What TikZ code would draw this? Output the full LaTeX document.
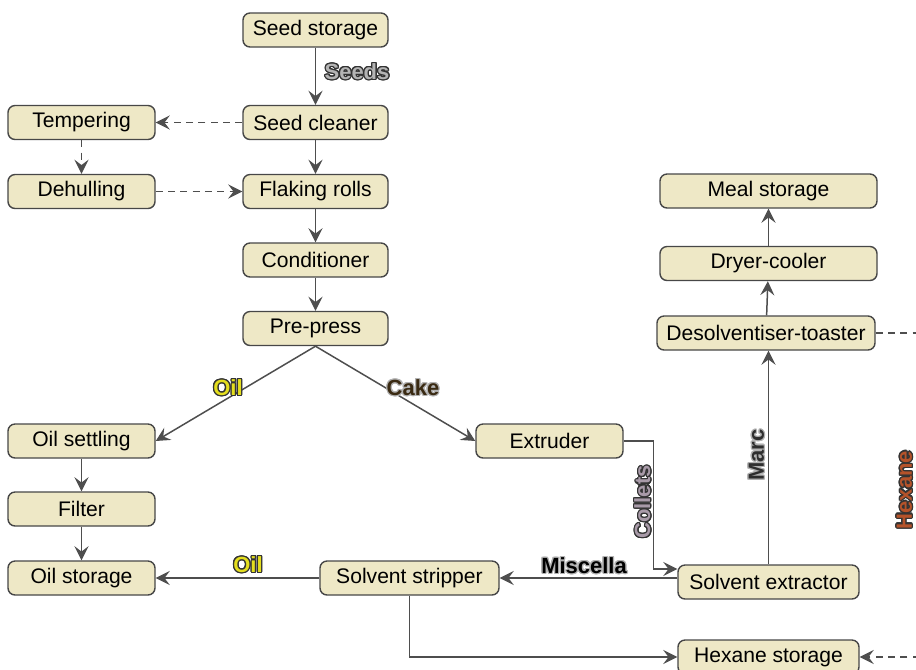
\documentclass[tikz,border=0pt]{standalone}
\usepackage{fontspec}
\setmainfont{Liberation Sans}
\usepackage{contour}
\contourlength{0.7pt}
\usetikzlibrary{arrows.meta}
\definecolor{boxfill}{HTML}{EEE8C6}
\definecolor{boxdraw}{HTML}{474747}
\definecolor{lnk}{HTML}{4E4E4E}
\definecolor{seedc}{HTML}{B4B4B4}
\definecolor{oilc}{HTML}{E4DE1E}
\definecolor{cakec}{HTML}{3A2A12}
\definecolor{colc}{HTML}{A89AA8}
\definecolor{marcc}{HTML}{2E2E2E}
\definecolor{hexc}{HTML}{B5532A}
\tikzset{
  box/.style={draw=boxdraw, fill=boxfill, rounded corners=4pt, line width=0.8pt,
    minimum height=0.68cm, inner sep=0pt, font=\fontsize{12}{14}\selectfont},
  arr/.style={draw=lnk, line width=0.85pt, -{Stealth[length=8pt,width=8pt,inset=3pt]}},
  dsh/.style={arr, dash pattern=on 4pt off 3pt},
  lbl/.style={inner sep=0pt, font=\bfseries\fontsize{12.5}{14}\selectfont}
}
\begin{document}
\begin{tikzpicture}
\useasboundingbox (0,0) rectangle (18.32,-13.38);
% nodes
\node[box, minimum width=2.9cm] (ss) at (6.31,-0.60) {Seed storage};
\node[box, minimum width=2.9cm] (sc) at (6.31,-2.45) {Seed cleaner};
\node[box, minimum width=2.94cm] (tp) at (1.63,-2.45) {Tempering};
\node[box, minimum width=2.94cm] (dh) at (1.63,-3.83) {Dehulling};
\node[box, minimum width=2.9cm] (fr) at (6.31,-3.83) {Flaking rolls};
\node[box, minimum width=2.9cm] (cd) at (6.31,-5.20) {Conditioner};
\node[box, minimum width=2.9cm] (pp) at (6.31,-6.57) {Pre-press};
\node[box, minimum width=2.94cm] (os) at (1.63,-8.82) {Oil settling};
\node[box, minimum width=2.94cm] (ex) at (10.99,-8.82) {Extruder};
\node[box, minimum width=2.94cm] (fi) at (1.63,-10.18) {Filter};
\node[box, minimum width=2.94cm] (ost) at (1.63,-11.56) {Oil storage};
\node[box, minimum width=3.58cm] (st) at (8.19,-11.56) {Solvent stripper};
\node[box, minimum width=3.62cm] (se) at (15.37,-11.64) {Solvent extractor};
\node[box, minimum width=3.62cm] (hs) at (15.37,-13.14) {Hexane storage};
\node[box, minimum width=4.36cm] (dt) at (15.32,-6.66) {Desolventiser-toaster};
\node[box, minimum width=4.34cm] (dc) at (15.37,-5.27) {Dryer-cooler};
\node[box, minimum width=4.34cm] (ms) at (15.37,-3.82) {Meal storage};
% coordinates
\coordinate (c1) at (18.8,-6.66);
% connectors
\draw[arr] (ss) -- (sc);
\draw[dsh] (sc) -- (tp);
\draw[dsh] (tp) -- (dh);
\draw[dsh] (dh) -- (fr);
\draw[arr] (sc) -- (fr);
\draw[arr] (fr) -- (cd);
\draw[arr] (cd) -- (pp);
\draw[arr] (pp.south) -- (os.east);
\draw[arr] (pp.south) -- (ex.west);
\draw[arr] (os) -- (fi);
\draw[arr] (fi) -- (ost);
\draw[arr] (ex.east) -- ++(0.6,0) |- ([yshift=0.26cm]se.west);
\draw[arr] (se.west |- st.east) -- (st.east);
\draw[arr] (st.west) -- (ost.east);
\draw[arr] (st.south) |- (hs.west);
\draw[arr] (se.north) -- (se.north |- dt.south);
\draw[arr] (dt) -- (dc);
\draw[arr] (dc) -- (ms);
\draw[dash pattern=on 4pt off 3pt, draw=lnk, line width=0.85pt] (dt.east) -- (c1);
\draw[dsh] (c1) |- (hs.east);
% labels
\node[lbl] (l1) at (7.14,-1.44) {\contour{black!80}{\textcolor{seedc}{Seeds}}};
\node[lbl] (l2) at (4.56,-7.76) {\contour{black!80}{\textcolor{oilc}{Oil}}};
\node[lbl] (l3) at (8.26,-7.76) {\contour{gray!60}{\textcolor{cakec}{Cake}}};
\node[lbl, rotate=90] (l4) at (12.86,-10.04) {\contour{black!80}{\textcolor{colc}{Collets}}};
\node[lbl, rotate=90] (l5) at (15.14,-9.1) {\contour{gray!60}{\textcolor{marcc}{Marc}}};
\node[lbl] (l6) at (11.68,-11.32) {\contour{gray!60}{\textcolor{black}{Miscella}}};
\node[lbl] (l7) at (4.96,-11.30) {\contour{black!80}{\textcolor{oilc}{Oil}}};
\node[lbl, rotate=90] (l8) at (18.1,-9.8) {\contour{black!80}{\textcolor{hexc}{Hexane}}};
\end{tikzpicture}
\end{document}
